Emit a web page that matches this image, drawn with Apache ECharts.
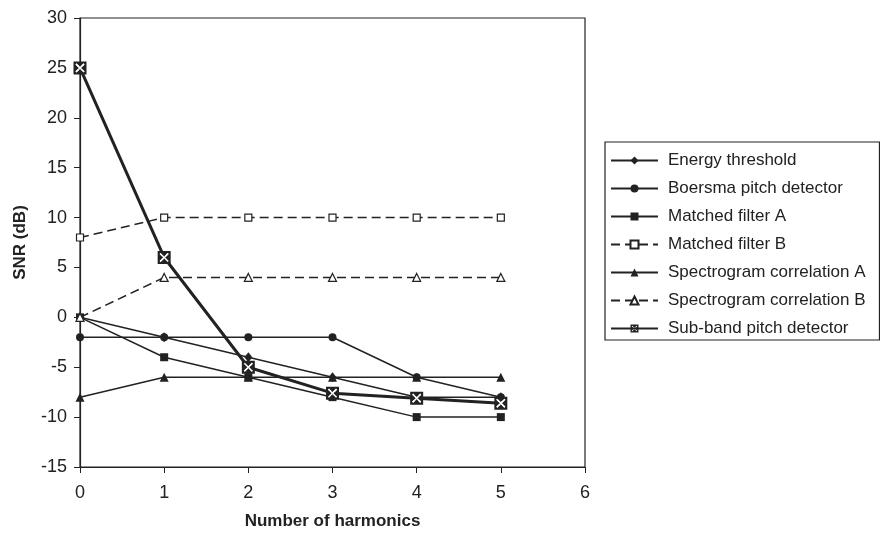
<!DOCTYPE html>
<html>
<head>
<meta charset="utf-8">
<script src="https://cdn.jsdelivr.net/npm/echarts@6/dist/echarts.min.js"></script>
<style>
  html, body { margin: 0; padding: 0; background: #fff; }
  #chart { width: 880px; height: 536px; }
</style>
</head>
<body>
<div id="chart"></div>
<script>
// harmonics on the x axis
var harmonics = [0, 1, 2, 3, 4, 5];

// SNR (dB) per detector
var energyThreshold = [0, -2, -4, -6, -8, -8];
var boersma = [-2, -2, -2, -2, -6, -8];
var matchedA = [0, -4, -6, -8, -10, -10];
var matchedB = [8, 10, 10, 10, 10, 10];
var spectroA = [-8, -6, -6, -6, -6, -6];
var spectroB = [0, 4, 4, 4, 4, 4];
var subBand = [25, 6, -5, -7.6, -8.1, -8.6];

var seriesNames = [
  "Energy threshold",
  "Boersma pitch detector",
  "Matched filter A",
  "Matched filter B",
  "Spectrogram correlation A",
  "Spectrogram correlation B",
  "Sub-band pitch detector",
];

var ink = "#222";
var font = "Liberation Sans, Arial, sans-serif";

// black square with an X cut out (for the legend), and a white X for the overlay
var boxX = "path://M0 0L20 0L20 20L0 20Z M4.6 3L3 4.6L8.4 10L3 15.4L4.6 17L10 11.6L15.4 17L17 15.4L11.6 10L17 4.6L15.4 3L10 8.4Z";
var crossX = "path://M1.6 0L7 5.4L12.4 0L14 1.6L8.6 7L14 12.4L12.4 14L7 8.6L1.6 14L0 12.4L5.4 7L0 1.6Z";

function pairs(vals) {
  return harmonics.map(function (h, i) {
    return [h, vals[i]];
  });
}

function mkLine(name, vals, symbol, size, opts) {
  opts = opts || {};
  return {
    name: name,
    type: "line",
    data: pairs(vals),
    symbol: symbol,
    symbolSize: size,
    showAllSymbol: true,
    lineStyle: {
      color: ink,
      width: opts.width || 1.5,
      type: opts.dash ? [9, 5] : "solid",
    },
    itemStyle: {
      color: opts.hollow ? "#fff" : ink,
      borderColor: ink,
      borderWidth: opts.hollow ? 1.2 : 0,
    },
    emphasis: { disabled: true },
    z: opts.z || 2,
  };
}

var chart = echarts.init(document.getElementById("chart"));

chart.setOption({
  animation: false,
  backgroundColor: "#fff",
  textStyle: { fontFamily: font, color: ink },
  grid: {
    left: 80,
    top: 18,
    right: 295,
    bottom: 69,
    show: true,
    borderColor: ink,
    borderWidth: 1.2,
    backgroundColor: "transparent",
  },
  legend: {
    data: seriesNames,
    orient: "vertical",
    left: 605,
    top: 142,
    itemWidth: 47,
    itemHeight: 10,
    itemGap: 11,
    padding: [10, 14, 3, 5],
    borderColor: ink,
    borderWidth: 1.2,
    backgroundColor: "#fff",
    selectedMode: false,
    textStyle: {
      fontFamily: font,
      fontSize: 17,
      color: ink,
      lineHeight: 17,
      padding: [0, 0, 0, 5],
    },
  },
  xAxis: {
    type: "value",
    min: 0,
    max: 6,
    interval: 1,
    name: "Number of harmonics",
    nameLocation: "middle",
    nameGap: 46,
    nameTextStyle: { fontFamily: font, fontSize: 17, fontWeight: "bold", color: ink },
    axisLine: { show: true, onZero: false, lineStyle: { color: ink, width: 1.2 } },
    axisTick: { show: true, length: 6, lineStyle: { color: ink } },
    axisLabel: { fontFamily: font, fontSize: 18, color: ink, margin: 17 },
    splitLine: { show: false },
  },
  yAxis: {
    type: "value",
    min: -15,
    max: 30,
    interval: 5,
    name: "SNR (dB)",
    nameLocation: "middle",
    nameGap: 51,
    nameTextStyle: { fontFamily: font, fontSize: 17, fontWeight: "bold", color: ink },
    axisLine: { show: true, onZero: false, lineStyle: { color: ink, width: 1.2 } },
    axisTick: { show: true, length: 6, lineStyle: { color: ink } },
    axisLabel: { fontFamily: font, fontSize: 18, color: ink, margin: 13 },
    splitLine: { show: false },
  },
  series: [
    mkLine(seriesNames[0], energyThreshold, "diamond", [8, 10]),
    mkLine(seriesNames[1], boersma, "circle", 8),
    mkLine(seriesNames[2], matchedA, "rect", 8),
    mkLine(seriesNames[3], matchedB, "rect", 7, { dash: true, hollow: true }),
    mkLine(seriesNames[4], spectroA, "triangle", 9),
    mkLine(seriesNames[5], spectroB, "triangle", 8, { dash: true, hollow: true }),
    mkLine(seriesNames[6], subBand, boxX, 13, { width: 3, z: 3 }),
    {
      // white cross drawn on top of the sub-band squares
      name: "sub-band-cross",
      type: "line",
      data: pairs(subBand),
      symbol: crossX,
      symbolSize: 9,
      lineStyle: { width: 0, opacity: 0 },
      itemStyle: { color: "#fff" },
      silent: true,
      z: 4,
    },
  ],
});
</script>
</body>
</html>
